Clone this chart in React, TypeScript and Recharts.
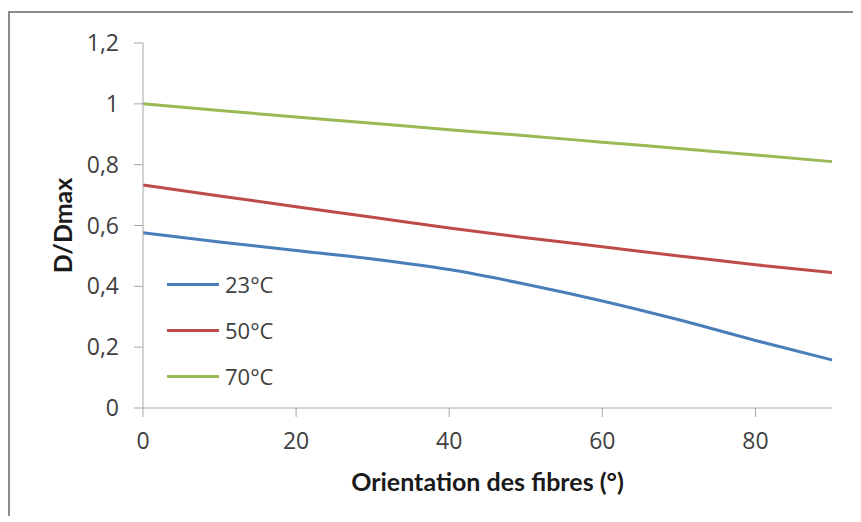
import React from 'react';
import { LineChart, Line, XAxis, YAxis, Legend } from 'recharts';

// fibre orientation (degrees)
const angles = [0, 10, 20, 30, 40, 50, 60, 70, 80, 90];

// D/Dmax
const d23 = [0.576, 0.546, 0.518, 0.49, 0.455, 0.407, 0.352, 0.29, 0.222, 0.158];
const d50 = [0.733, 0.697, 0.662, 0.627, 0.592, 0.56, 0.53, 0.5, 0.471, 0.445];
const d70 = [1.0, 0.978, 0.957, 0.936, 0.915, 0.895, 0.874, 0.853, 0.832, 0.81];

const xTicks = [0, 20, 40, 60, 80];
const yTicks = [0, 0.2, 0.4, 0.6, 0.8, 1, 1.2];

const series = [
  { key: 't23', name: '23°C', color: '#4a7ebb' },
  { key: 't50', name: '50°C', color: '#be4b48' },
  { key: 't70', name: '70°C', color: '#98b954' },
];

const data = angles.map((a, i) => ({ angle: a, t23: d23[i], t50: d50[i], t70: d70[i] }));

const TICK_FONT = '"Open Sans", sans-serif';
const TITLE_FONT = 'Lato, "Open Sans", sans-serif';
const AXIS = '#a6a6a6';
const TEXT = '#404040';

const fmt = (v: number) => String(+v.toFixed(1)).replace('.', ',');

const YTitle = ({ viewBox }: any) => {
  const cx = viewBox.x + 52;
  const cy = viewBox.y + viewBox.height / 2;
  return (
    <text x={cx} y={cy} transform={`rotate(-90 ${cx} ${cy})`} textAnchor="middle"
      dominantBaseline="central" fontFamily={TITLE_FONT} fontWeight="bold" fontSize={25} fill="#1a1a1a">
      D/Dmax
    </text>
  );
};

const XTitle = ({ viewBox }: any) => {
  const cx = viewBox.x + viewBox.width / 2;
  const cy = viewBox.y + 73;
  return (
    <text x={cx} y={cy} textAnchor="middle" dominantBaseline="central"
      fontFamily={TITLE_FONT} fontWeight="bold" fontSize={25} fill="#1a1a1a">
      Orientation des fibres (°)
    </text>
  );
};

const LegendBox = () => (
  <div style={{ fontFamily: TICK_FONT }}>
    {series.map(s => (
      <div key={s.key} style={{ display: 'flex', alignItems: 'center', height: 46 }}>
        <span style={{ display: 'inline-block', width: 52, height: 3, background: s.color, marginRight: 6 }} />
        <span style={{ fontSize: 22, color: TEXT }}>{s.name}</span>
      </div>
    ))}
  </div>
);

export default function App() {
  return (
    <div style={{
      position: 'relative', marginTop: 3, width: 853, height: 505, boxSizing: 'border-box',
      borderTop: '2px solid #8c8c8c', borderLeft: '2px solid #8c8c8c', background: '#fff',
    }}>
      <LineChart width={843} height={490} data={data} margin={{ top: 30, right: 21, left: 0, bottom: 0 }}>
        <XAxis dataKey="angle" type="number" domain={[0, 90]} ticks={xTicks} height={95}
          stroke={AXIS} tickSize={9} tickMargin={16}
          tick={{ fill: TEXT, fontSize: 23, fontFamily: TICK_FONT }} label={<XTitle />} />
        <YAxis type="number" domain={[0, 1.2]} ticks={yTicks} width={133} tickFormatter={fmt}
          stroke={AXIS} tickSize={9} tickMargin={15}
          tick={{ fill: TEXT, fontSize: 23, fontFamily: TICK_FONT }} label={<YTitle />} />
        <Legend layout="vertical" align="center" verticalAlign="middle" content={<LegendBox />}
          wrapperStyle={{ position: 'absolute', left: 157, top: 248, width: 'auto' }} />
        {series.map(s => (
          <Line key={s.key} type="monotone" dataKey={s.key} name={s.name} stroke={s.color}
            strokeWidth={3} dot={false} activeDot={false} isAnimationActive={false} />
        ))}
      </LineChart>
    </div>
  );
}
